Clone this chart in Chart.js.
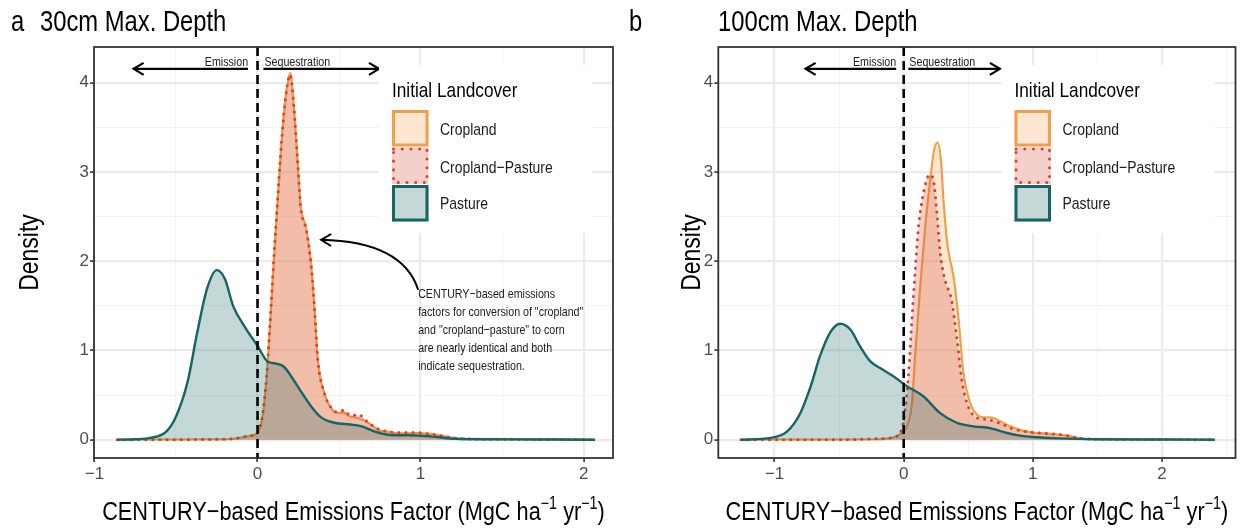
<!DOCTYPE html>
<html><head><meta charset="utf-8">
<script src="https://cdn.jsdelivr.net/npm/chart.js@4.4.1/dist/chart.umd.min.js"></script>
<style>
html,body{margin:0;padding:0;background:#fff;width:1241px;height:529px;overflow:hidden}
.pan{position:absolute;top:0;height:529px}
#wa{left:0;width:620px}
#wb{left:620px;width:621px}
canvas{display:block}
</style></head><body>
<div id="wa" class="pan"><canvas id="ca" width="620" height="529"></canvas></div>
<div id="wb" class="pan"><canvas id="cb" width="621" height="529"></canvas></div>
<script>
// ---------------- DATA ----------------
const seriesNames = ['Cropland', 'Cropland\u2212Pasture', 'Pasture'];
const panelLetters = ['a', 'b'];
const panelTitles = ['30cm Max. Depth', '100cm Max. Depth'];
const legendTitle = 'Initial Landcover';
const dirLabels = ['Emission', 'Sequestration'];
const noteLines = ['CENTURY\u2212based emissions', 'factors for conversion of "cropland"', 'and "cropland\u2212pasture" to corn', 'are nearly identical and both', 'indicate sequestration.'];
const yTickVals = [0, 0.5, 1, 1.5, 2, 2.5, 3, 3.5, 4];
const xTickValsA = [-1, -0.5, 0, 0.5, 1, 1.5, 2];
const xTickValsB = [-1, -0.5, 0, 0.5, 1, 1.5, 2, 2.5];

// Panel a (30cm)
const aPastureX = [-0.86, -0.75, -0.66, -0.56, -0.50, -0.43, -0.37, -0.31, -0.25, -0.20, -0.15, -0.08, 0.0, 0.06, 0.12, 0.16, 0.21, 0.27, 0.33, 0.39, 0.47, 0.57, 0.64, 0.72, 0.80, 0.90, 1.01, 1.10, 1.21, 1.42, 1.70, 2.07];
const aPastureY = [0, 0.005, 0.02, 0.09, 0.26, 0.64, 1.20, 1.69, 1.90, 1.80, 1.50, 1.27, 1.05, 0.88, 0.85, 0.82, 0.70, 0.53, 0.37, 0.25, 0.19, 0.17, 0.15, 0.09, 0.056, 0.05, 0.045, 0.03, 0.01, 0.005, 0.003, 0];
const aCropX = [-0.86, -0.50, -0.30, -0.15, -0.06, 0.0, 0.03, 0.056, 0.076, 0.10, 0.12, 0.14, 0.16, 0.18, 0.20, 0.224, 0.245, 0.265, 0.30, 0.33, 0.35, 0.37, 0.41, 0.45, 0.49, 0.53, 0.57, 0.62, 0.68, 0.74, 0.80, 0.86, 0.97, 1.07, 1.17, 1.25, 1.40, 1.70, 2.07];
const aCropY = [0, 0, 0.003, 0.01, 0.04, 0.08, 0.26, 0.71, 1.27, 2.02, 2.58, 3.15, 3.63, 3.95, 4.11, 3.71, 3.15, 2.62, 2.36, 1.95, 1.46, 0.90, 0.52, 0.36, 0.30, 0.30, 0.26, 0.24, 0.19, 0.11, 0.09, 0.07, 0.075, 0.065, 0.03, 0.01, 0.005, 0.003, 0];
const aCpX = [-0.86, -0.50, -0.30, -0.15, -0.06, 0.0, 0.03, 0.056, 0.076, 0.10, 0.12, 0.14, 0.16, 0.18, 0.20, 0.224, 0.245, 0.265, 0.30, 0.33, 0.35, 0.37, 0.41, 0.45, 0.49, 0.53, 0.57, 0.62, 0.68, 0.74, 0.80, 0.86, 0.97, 1.07, 1.17, 1.25, 1.40, 1.70, 2.07];
const aCpY = [0, 0, 0.003, 0.01, 0.04, 0.08, 0.27, 0.72, 1.28, 2.03, 2.60, 3.15, 3.62, 3.94, 4.09, 3.70, 3.14, 2.60, 2.34, 1.93, 1.45, 0.89, 0.52, 0.36, 0.31, 0.33, 0.27, 0.28, 0.19, 0.12, 0.09, 0.08, 0.08, 0.06, 0.03, 0.01, 0.005, 0.003, 0];

// Panel b (100cm)
const bPastureX = [-1.26, -1.03, -0.905, -0.80, -0.72, -0.65, -0.57, -0.49, -0.41, -0.34, -0.26, -0.18, -0.08, 0.025, 0.15, 0.28, 0.41, 0.54, 0.67, 0.80, 0.90, 1.0, 1.2, 1.5, 2.0, 2.41];
const bPastureY = [0, 0.02, 0.09, 0.30, 0.60, 0.93, 1.20, 1.30, 1.23, 1.05, 0.88, 0.80, 0.71, 0.60, 0.49, 0.30, 0.19, 0.15, 0.13, 0.075, 0.045, 0.03, 0.015, 0.005, 0.002, 0];
const bCropX = [-1.26, -0.50, -0.20, -0.10, -0.03, 0.025, 0.064, 0.09, 0.128, 0.167, 0.205, 0.236, 0.262, 0.288, 0.31, 0.34, 0.386, 0.425, 0.46, 0.515, 0.567, 0.62, 0.67, 0.77, 0.826, 0.90, 1.0, 1.1, 1.25, 1.40, 1.80, 2.41];
const bCropY = [0, 0, 0.005, 0.02, 0.06, 0.15, 0.41, 0.97, 1.72, 2.39, 2.91, 3.25, 3.33, 3.14, 2.65, 2.17, 1.83, 1.35, 0.78, 0.41, 0.28, 0.25, 0.25, 0.19, 0.15, 0.11, 0.08, 0.07, 0.05, 0.01, 0.003, 0];
const bCpX = [-1.26, -0.50, -0.20, -0.05, 0.0, 0.04, 0.064, 0.09, 0.115, 0.153, 0.20, 0.23, 0.257, 0.283, 0.32, 0.37, 0.41, 0.45, 0.49, 0.55, 0.62, 0.67, 0.77, 0.85, 0.95, 1.10, 1.25, 1.40, 1.80, 2.41];
const bCpY = [0, 0, 0.01, 0.04, 0.22, 0.78, 1.35, 1.91, 2.39, 2.76, 2.97, 2.91, 2.54, 2.09, 1.79, 1.57, 1.16, 0.67, 0.41, 0.26, 0.23, 0.22, 0.17, 0.12, 0.09, 0.07, 0.05, 0.01, 0.003, 0];

// annotation positions (data units)
const arrowY = 4.155;
const arrowInner = [-0.058, 0.036];
const arrowOuter = [-0.76, 0.745];
const notePos = [0.985, 1.585];
const curveFrom = [0.985, 1.68];
const curveCtrl = [0.89, 2.22];
const curveTo = [0.39, 2.24];

// ---------------- STYLE ----------------
const FONT = '"Liberation Sans", Arial, sans-serif';
const NARROW = 0.82;
const ORANGE = '#f0a04b', RED = '#d9432e', TEAL = '#156565';
const fills = ['rgba(240,160,75,0.25)', 'rgba(217,67,46,0.25)', 'rgba(21,101,101,0.25)'];
const lines = [ORANGE, RED, TEAL];

function pts(xs, ys) { return xs.map((v, i) => ({x: v, y: ys[i]})); }
function isMajor(v) { return Math.abs(v - Math.round(v)) < 1e-9; }
function fmt(v) { return v < 0 ? '\u2212' + Math.abs(v) : String(v); }

// condensed text (Arial-Narrow-like) drawn as real canvas text
function ntext(ctx, s, x, y, size, align, color, rot) {
  ctx.save();
  ctx.translate(x, y);
  if (rot) ctx.rotate(rot);
  ctx.scale(NARROW, 1);
  ctx.font = size + 'px ' + FONT;
  ctx.fillStyle = color || '#000';
  ctx.textAlign = align || 'left';
  ctx.textBaseline = 'alphabetic';
  ctx.fillText(s, 0, 0);
  ctx.restore();
}
function nwidth(ctx, s, size) { ctx.save(); ctx.font = size + 'px ' + FONT; const w = ctx.measureText(s).width * NARROW; ctx.restore(); return w; }

function arrowHead(ctx, tx, ty, ang, len, half) {
  const bx = tx - Math.cos(ang) * len, by = ty - Math.sin(ang) * len;
  const nx = -Math.sin(ang) * half, ny = Math.cos(ang) * half;
  ctx.beginPath();
  ctx.moveTo(bx + nx, by + ny); ctx.lineTo(tx, ty); ctx.lineTo(bx - nx, by - ny);
  ctx.stroke();
}

function decoPlugin(cfg) {
  return {
    id: 'deco',
    afterDatasetsDraw(chart) {
      const {ctx, chartArea: a, scales: {x, y}} = chart;
      const X = v => x.getPixelForValue(v), Y = v => y.getPixelForValue(v);
      ctx.save();
      // zero line
      ctx.strokeStyle = '#000'; ctx.lineWidth = 2.6; ctx.setLineDash([9, 5]); ctx.lineCap = 'butt';
      ctx.beginPath(); ctx.moveTo(X(0), a.top); ctx.lineTo(X(0), a.bottom); ctx.stroke();
      ctx.setLineDash([]);
      // direction arrows
      ctx.lineWidth = 2.2; ctx.lineCap = 'butt'; ctx.lineJoin = 'miter';
      const ay = Y(arrowY);
      for (let k = 0; k < 2; k++) {
        ctx.beginPath(); ctx.moveTo(X(arrowInner[k]), ay); ctx.lineTo(X(arrowOuter[k]), ay); ctx.stroke();
        arrowHead(ctx, X(arrowOuter[k]), ay, k === 0 ? Math.PI : 0, 10, 6);
      }
      ntext(ctx, dirLabels[0], X(arrowInner[0]), ay - 2.5, 13, 'right', '#1a1a1a');
      ntext(ctx, dirLabels[1], X(arrowInner[1]) + 1, ay - 2.5, 13, 'left', '#1a1a1a');
      // note + curved arrow
      if (cfg.note) {
        noteLines.forEach((t, i) => ntext(ctx, t, X(notePos[0]), Y(notePos[1]) + i * 17.9, 13, 'left', '#1a1a1a'));
        const p0 = [X(curveFrom[0]), Y(curveFrom[1])], c = [X(curveCtrl[0]), Y(curveCtrl[1])], p2 = [X(curveTo[0]), Y(curveTo[1])];
        ctx.lineWidth = 2; ctx.strokeStyle = '#000';
        ctx.beginPath(); ctx.moveTo(p0[0], p0[1]); ctx.quadraticCurveTo(c[0], c[1], p2[0], p2[1]); ctx.stroke();
        arrowHead(ctx, p2[0], p2[1], Math.atan2(p2[1] - c[1], p2[0] - c[0]), 10, 6);
      }
      // legend
      const bl = a.right - 234, bt = 65;
      ctx.fillStyle = '#fff'; ctx.fillRect(bl, bt, 213, 168);
      ntext(ctx, legendTitle, bl + 13, bt + 31.7, 21, 'left', '#000');
      const base = [70, 107.7, 144];
      for (let i = 0; i < 3; i++) {
        const kx = bl + 13, ky = bt + 45 + i * 37.5;
        ctx.fillStyle = '#fff'; ctx.fillRect(kx, ky, 36.5, 36.5);
        ctx.fillStyle = fills[i]; ctx.fillRect(kx, ky, 36.5, 36.5);
        ctx.strokeStyle = lines[i]; ctx.lineWidth = 3;
        if (i === 1) { ctx.setLineDash([0.1, 8.6]); ctx.lineCap = 'round'; } else { ctx.setLineDash([]); ctx.lineCap = 'butt'; }
        ctx.strokeRect(kx + 1.5, ky + 1.5, 33.5, 33.5);
        ctx.setLineDash([]); ctx.lineCap = 'butt';
        ntext(ctx, seriesNames[i], bl + 61, bt + base[i], 17, 'left', '#1a1a1a');
      }
      ctx.restore();
    },
    afterDraw(chart) {
      const {ctx, chartArea: a} = chart;
      ctx.save();
      ctx.strokeStyle = '#333'; ctx.lineWidth = 1.8;
      ctx.strokeRect(a.left, a.top, a.right - a.left, a.bottom - a.top);
      // panel letter + title
      ntext(ctx, cfg.letter, cfg.letterX, 31, 29, 'left', '#000');
      ntext(ctx, cfg.title, cfg.titleX, 31, 29, 'left', '#000');
      // y title
      ntext(ctx, 'Density', cfg.yTitleX, (a.top + a.bottom) / 2, 28, 'center', '#000', -Math.PI / 2);
      // x title with superscripts
      const parts = [['CENTURY\u2212based Emissions Factor (MgC ha', 26.5, 0], ['\u22121', 17.5, -11], [' yr', 26.5, 0], ['\u22121', 17.5, -11], [')', 26.5, 0]];
      let tot = 0;
      parts.forEach(p => { p.push(nwidth(ctx, p[0], p[1])); tot += p[3]; });
      let cx = (a.left + a.right) / 2 - tot / 2;
      parts.forEach(p => { ntext(ctx, p[0], cx, 520 + p[2], p[1], 'left', '#000'); cx += p[3]; });
      ctx.restore();
    }
  };
}

function makeChart(id, cfg) {
  const ds = [
    {label: seriesNames[0], data: pts(cfg.cropX, cfg.cropY), borderColor: lines[0], backgroundColor: fills[0], borderWidth: 2.2, order: 2},
    {label: seriesNames[1], data: pts(cfg.cpX, cfg.cpY), borderColor: lines[1], backgroundColor: fills[1], borderWidth: 3, borderDash: [0.1, 7], borderCapStyle: 'round', order: 1},
    {label: seriesNames[2], data: pts(cfg.pastX, cfg.pastY), borderColor: lines[2], backgroundColor: fills[2], borderWidth: 2.4, order: 0}
  ].map(d => Object.assign({fill: 'origin', pointRadius: 0, cubicInterpolationMode: 'monotone'}, d));
  const grid = {
    color: c => (c.tick && isMajor(c.tick.value)) ? '#ebebeb' : '#f3f3f3',
    lineWidth: c => (c.tick && isMajor(c.tick.value)) ? 2.2 : 1.1,
    tickColor: c => (c.tick && isMajor(c.tick.value)) ? '#333' : 'rgba(0,0,0,0)',
    tickWidth: 1.6, tickLength: 4, drawTicks: true
  };
  return new Chart(document.getElementById(id), {
    type: 'line',
    data: {datasets: ds},
    options: {
      responsive: false, animation: false, devicePixelRatio: 1,
      layout: {padding: {left: 0, top: 47, right: cfg.padRight, bottom: 0}},
      plugins: {legend: {display: false}, tooltip: {enabled: false}},
      scales: {
        x: {
          type: 'linear', min: cfg.xMin, max: cfg.xMax,
          afterBuildTicks: s => { s.ticks = cfg.xTicks.map(v => ({value: v})); },
          afterFit: s => { s.height = 71; },
          ticks: {callback: v => isMajor(v) ? fmt(v) : '', autoSkip: false, maxRotation: 0, font: {family: FONT, size: 17}, color: '#4d4d4d', padding: 2},
          grid: grid, border: {display: false}
        },
        y: {
          type: 'linear', min: -0.205, max: 4.40,
          afterBuildTicks: s => { s.ticks = yTickVals.map(v => ({value: v})); },
          afterFit: s => { s.width = cfg.yWidth; },
          ticks: {callback: v => isMajor(v) ? fmt(v) : '', autoSkip: false, font: {family: FONT, size: 17}, color: '#4d4d4d', padding: 1},
          grid: grid, border: {display: false}
        }
      }
    },
    plugins: [decoPlugin(cfg)]
  });
}

makeChart('ca', {
  cropX: aCropX, cropY: aCropY, cpX: aCpX, cpY: aCpY, pastX: aPastureX, pastY: aPastureY,
  xMin: -1.003, xMax: 2.18, xTicks: xTickValsA, yWidth: 94, padRight: 7,
  note: true, letter: panelLetters[0], title: panelTitles[0], letterX: 11, titleX: 40, yTitleX: 38
});
makeChart('cb', {
  cropX: bCropX, cropY: bCropY, cpX: bCpX, cpY: bCpY, pastX: bPastureX, pastY: bPastureY,
  xMin: -1.436, xMax: 2.57, xTicks: xTickValsB, yWidth: 98.3, padRight: 5.5,
  note: false, letter: panelLetters[1], title: panelTitles[1], letterX: 9, titleX: 98, yTitleX: 80
});
</script>
</body></html>
